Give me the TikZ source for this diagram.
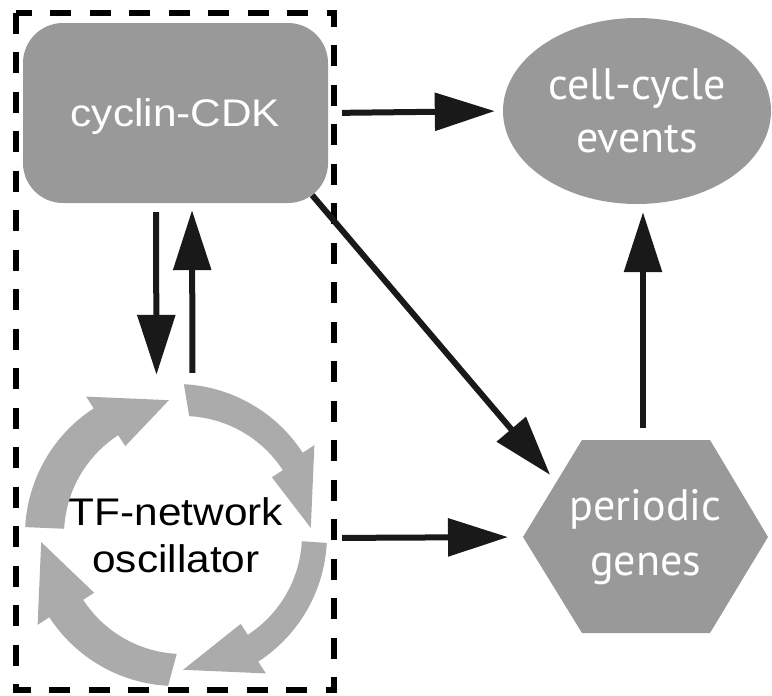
\documentclass[tikz,border=0pt]{standalone}
\usepackage{fontspec}
\usetikzlibrary{arrows.meta,shapes.geometric,calc}
\newfontfamily\arialx[FakeStretch=1.1]{Liberation Sans}
\newfontfamily\myriadx{PT Sans}
\definecolor{shapegray}{gray}{0.6}
\definecolor{ringgray}{gray}{0.67}
\definecolor{arrowblack}{gray}{0.1}
\begin{document}
\begin{tikzpicture}[x=1pt,y=-1pt,
  cdkbox/.style={rectangle, rounded corners=40pt, fill=shapegray, minimum width=305pt, minimum height=180pt, inner sep=0pt, text=white, font=\arialx\fontsize{38.5}{47}\selectfont, text depth=0pt},
  evbox/.style={ellipse, fill=shapegray, minimum width=268pt, minimum height=186pt, inner sep=0pt, text=white, align=center, font=\myriadx\fontsize{44}{53}\selectfont},
  oscbox/.style={circle, minimum size=300pt, inner sep=0pt, align=center, font=\arialx\fontsize{38.5}{47}\selectfont},
  genesbox/.style={inner sep=0pt, text=white, align=center, font=\myriadx\fontsize{44}{55}\selectfont},
  hexfill/.style={fill=shapegray},
  ringarrow/.style={fill=ringgray},
  dashbox/.style={draw=black, line width=6pt, dash pattern=on 21pt off 18.5pt},
  arr/.style={draw=arrowblack, line width=6pt, -{Triangle[length=60pt,width=37pt]}},
]
\useasboundingbox (0,0) rectangle (772,696);
\fill[white] (0,0) rectangle (772,696);

% dashed box
\draw[dashbox] (15.5,12.5) rectangle (333.5,690);

% shapes
\node[cdkbox] (cdk) at (175.5,113) {cyclin-CDK};
\node[evbox] (ev) at (637,111) {cell-cycle\\events};
\fill[hexfill] (523,537) coordinate (hexL) -- (582,440) coordinate (hexTL)
  -- (710,440) coordinate (hexTR) -- (768,537) coordinate (hexR)
  -- (710,633) coordinate (hexBR) -- (582,633) coordinate (hexBL) -- cycle;
\node[genesbox] (genes) at (645.5,537) {periodic\\genes};
\coordinate (hexT) at ($(hexTL)!0.5!(hexTR)$);
\coordinate (diagT) at ($(hexTL)!0.435!(hexL)$);

\node[oscbox] (osc) at (176,535) {TF-network\\oscillator};
\coordinate (oc) at (osc.center);
\coordinate (ic) at ([xshift=7pt]osc.center);
\foreach \a [evaluate=\a as \s using \a+3, evaluate=\a as \m using \a+57, evaluate=\a as \t using \a+87] in {0,90,180,270}
  \fill[ringarrow] ($(oc)+(\s:151)$) arc[start angle=\s, end angle=\m, radius=151]
    -- ($(oc)+(\m:165)$) -- ($(oc)+(\t:135)$) -- ($(ic)+(\m:106)$) -- ($(ic)+(\m:119)$)
    arc[start angle=\m, end angle=\s, radius=119] -- cycle;

% connectors
\draw[arr, shorten <=9pt, shorten >=10pt] ([xshift=-19.5pt]cdk.south) -- ([xshift=-19.5pt]osc.north);
\draw[arr, shorten <=12pt, shorten >=7pt] ([xshift=16.5pt]osc.north) -- ([xshift=16.5pt]cdk.south);
\draw[arr, shorten <=14pt, shorten >=8pt] (cdk.east) -- (ev.west);
\draw[arr, shorten >=9.6pt] ([xshift=-16pt,yshift=8pt]cdk.south east) -- (diagT);
\draw[arr, shorten <=16pt, shorten >=15pt] ([yshift=-3pt]osc.east) -- (hexL);
\draw[arr, shorten <=12pt, shorten >=8pt] ([xshift=-3pt]hexT) -- ([xshift=-3pt]hexT |- ev.south);
\end{tikzpicture}
\end{document}
